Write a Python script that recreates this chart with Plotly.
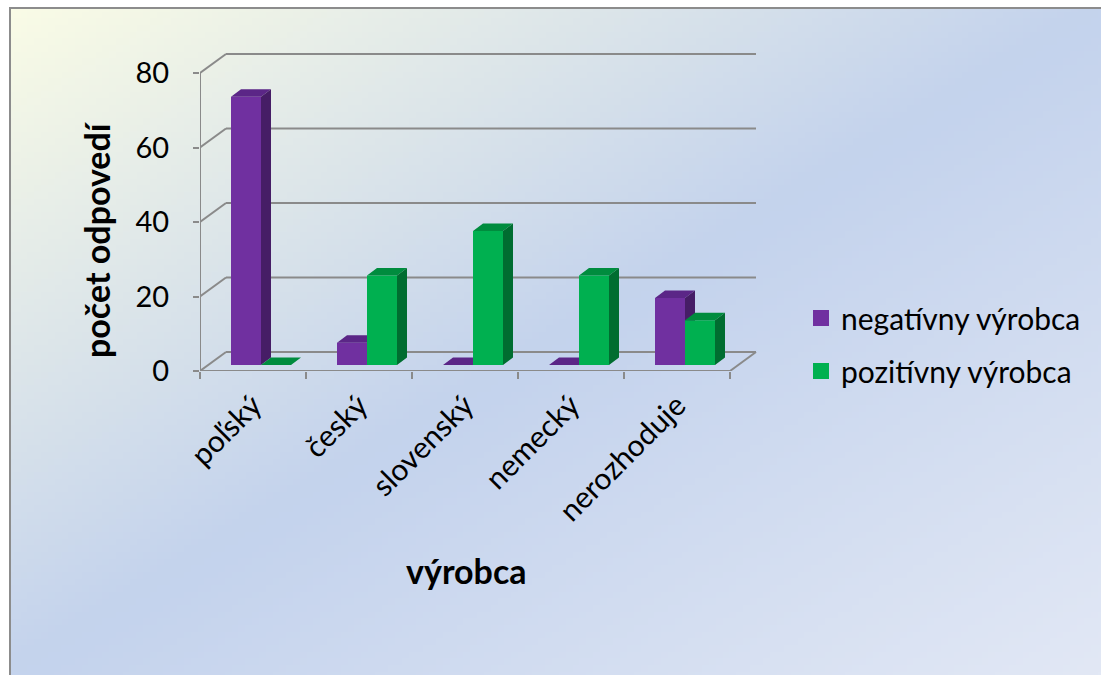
import base64, struct, zlib
import numpy as np
import plotly.graph_objects as go

# ---------------- data ----------------
categories = ["poľský", "český", "slovenský", "nemecký", "nerozhoduje"]
negativny = [72, 6, 0, 0, 18]
pozitivny = [0, 24, 36, 24, 12]
series_names = ["negatívny výrobca", "pozitívny výrobca"]
y_ticks = [0, 20, 40, 60, 80]

# ---------------- style / geometry ----------------
FONT = "Lato"
PUR_FRONT, PUR_TOP, PUR_SIDE = "#7030a0", "#5b2687", "#461d66"
GRN_FRONT, GRN_TOP, GRN_SIDE = "#00b050", "#008c3e", "#006d30"
GRID = "#8a8a8a"

CAT_PX = 106.0
UNIT_PX = 3.725
WALL_DX = 26 / CAT_PX
WALL_DY = 19 / UNIT_PX
BAR_W = 30 / CAT_PX
SHIFT_X = 8 / CAT_PX
BASE_Y = 6 / UNIT_PX
BAR_DX = 10 / CAT_PX
BAR_DY = 7.5 / UNIT_PX

PLOT_L, PLOT_R, PLOT_T, PLOT_B = 200, 760, 50, 371
W, H = 1101, 675
x_lo = -0.5
x_hi = x_lo + (PLOT_R - PLOT_L) / CAT_PX
y_hi = (PLOT_B - PLOT_T) / UNIT_PX
n = len(categories)


def px_to_paper(px, py):
    return (px - PLOT_L) / (PLOT_R - PLOT_L), (PLOT_B - py) / (PLOT_B - PLOT_T)


# ---------------- gradient background image ----------------
def gradient_png(w=160, h=100):
    stops = np.array([[0.0, 250, 252, 230],
                      [0.5, 196, 211, 237],
                      [1.0, 226, 232, 245]])
    u = np.linspace(0, 1, w)[None, :]
    v = np.linspace(0, 1, h)[:, None]
    t = (u + v) / 2
    img = np.zeros((h, w, 3))
    for c in range(3):
        img[:, :, c] = np.interp(t, stops[:, 0], stops[:, c + 1])
    img = img.clip(0, 255).astype(np.uint8)
    raw = b"".join(b"\x00" + img[r].tobytes() for r in range(h))

    def chunk(tag, data):
        c = struct.pack(">I", len(data)) + tag + data
        return c + struct.pack(">I", zlib.crc32(tag + data) & 0xffffffff)

    png = b"\x89PNG\r\n\x1a\n" + chunk(b"IHDR", struct.pack(">IIBBBBB", w, h, 8, 2, 0, 0, 0)) \
        + chunk(b"IDAT", zlib.compress(raw, 9)) + chunk(b"IEND", b"")
    return "data:image/png;base64," + base64.b64encode(png).decode()


fig = go.Figure()


# ---------------- 3D bars as filled polygons ----------------
def faces(values, offset):
    front_x, front_y, top_x, top_y, side_x, side_y = [], [], [], [], [], []
    for i, v in enumerate(values):
        x0 = i + SHIFT_X + offset
        x1 = x0 + BAR_W
        b = BASE_Y
        t = BASE_Y + v
        front_x += [x0, x1, x1, x0, x0, None]
        front_y += [b, b, t, t, b, None]
        top_x += [x0, x1, x1 + BAR_DX, x0 + BAR_DX, x0, None]
        top_y += [t, t, t + BAR_DY, t + BAR_DY, t, None]
        side_x += [x1, x1 + BAR_DX, x1 + BAR_DX, x1, x1, None]
        side_y += [b, b + BAR_DY, t + BAR_DY, t, b, None]
    return (front_x, front_y), (top_x, top_y), (side_x, side_y)


for vals, off, cols in [(negativny, -BAR_W, (PUR_FRONT, PUR_TOP, PUR_SIDE)),
                        (pozitivny, 0.0, (GRN_FRONT, GRN_TOP, GRN_SIDE))]:
    fr, tp, sd = faces(vals, off)
    for (xs, ys), col in [(fr, cols[0]), (tp, cols[1]), (sd, cols[2])]:
        fig.add_trace(go.Scatter(x=xs, y=ys, mode="lines", fill="toself",
                                 fillcolor=col, line=dict(width=0, color=col),
                                 hoverinfo="skip", showlegend=False))

# legend entries
for name, col, grp in [(series_names[0], PUR_FRONT, "a"), (series_names[1], GRN_FRONT, "b")]:
    fig.add_trace(go.Scatter(x=[None], y=[None], mode="markers", name=name, legendgroup=grp,
                             marker=dict(symbol="square", size=16, color=col)))

# ---------------- walls / grid as shapes ----------------
shapes = []
line = dict(color=GRID, width=2)
for yv in y_ticks:
    shapes.append(dict(type="line", xref="x", yref="y", x0=x_lo + WALL_DX, x1=n - 0.5 + WALL_DX,
                       y0=yv + WALL_DY, y1=yv + WALL_DY, line=line, layer="below"))
    shapes.append(dict(type="line", xref="x", yref="y", x0=x_lo, x1=x_lo + WALL_DX,
                       y0=yv, y1=yv + WALL_DY, line=line, layer="below"))
shapes.append(dict(type="line", xref="x", yref="y", x0=x_lo, x1=n - 0.5, y0=0, y1=0, line=line, layer="below"))
shapes.append(dict(type="line", xref="x", yref="y", x0=n - 0.5, x1=n - 0.5 + WALL_DX, y0=0, y1=WALL_DY,
                   line=line, layer="below"))
shapes.append(dict(type="line", xref="x", yref="y", x0=x_lo, x1=x_lo, y0=0, y1=max(y_ticks),
                   line=line, layer="below"))

# frame border
fx0, fy0 = px_to_paper(10, 8)
fx1, fy1 = px_to_paper(1110, 690)
shapes.append(dict(type="rect", xref="paper", yref="paper", x0=fx0, y0=fy1, x1=fx1, y1=fy0,
                   line=dict(color="#8c8c8c", width=2), layer="above"))

# background image
ix0, iy0 = px_to_paper(10, 8)
ix1, iy1 = px_to_paper(W, H)
images = [dict(source=gradient_png(), xref="paper", yref="paper", x=ix0, y=iy0,
               sizex=ix1 - ix0, sizey=iy0 - iy1, sizing="stretch", xanchor="left",
               yanchor="top", layer="below")]

# axis titles
ax_title_x, ax_title_y = px_to_paper(96, 240)
xt_x, xt_y = px_to_paper(466, 570)
annotations = [
    dict(text="<b>počet odpovedí</b>", xref="paper", yref="paper", x=ax_title_x, y=ax_title_y,
         textangle=-90, showarrow=False, font=dict(family=FONT, size=34, color="#000000"),
         xanchor="center", yanchor="middle"),
    dict(text="<b>výrobca</b>", xref="paper", yref="paper", x=xt_x, y=xt_y,
         showarrow=False, font=dict(family=FONT, size=34, color="#000000"),
         xanchor="center", yanchor="middle"),
]

lx, ly = px_to_paper(801, 292)

fig.update_layout(
    width=W, height=H,
    margin=dict(l=PLOT_L, r=W - PLOT_R, t=PLOT_T, b=H - PLOT_B, pad=0),
    paper_bgcolor="white", plot_bgcolor="rgba(0,0,0,0)",
    font=dict(family=FONT, size=26, color="#000000"),
    shapes=shapes, images=images, annotations=annotations,
    showlegend=True,
    legend=dict(x=lx, y=ly, xanchor="left", yanchor="top", bgcolor="rgba(0,0,0,0)",
                font=dict(family=FONT, size=30, color="#000000"), tracegroupgap=11,
                itemsizing="trace"),
    xaxis=dict(range=[x_lo, x_hi], showgrid=False, zeroline=False, showline=False,
               tickmode="array", tickvals=list(range(n)), ticktext=categories, tickangle=-45,
               ticks="", tickfont=dict(family=FONT, size=30), ticklabelstandoff=10,
               minor=dict(tickmode="array", tickvals=[i - 0.5 for i in range(n + 1)],
                          ticks="outside", ticklen=7, tickcolor=GRID, tickwidth=2, showgrid=False)),
    yaxis=dict(range=[0, y_hi], showgrid=False, zeroline=False, showline=False,
               tickmode="array", tickvals=y_ticks, ticks="outside", ticklen=6,
               tickcolor=GRID, tickwidth=2, ticklabelstandoff=18,
               tickfont=dict(family=FONT, size=29)),
)

fig.write_html("out.html")
